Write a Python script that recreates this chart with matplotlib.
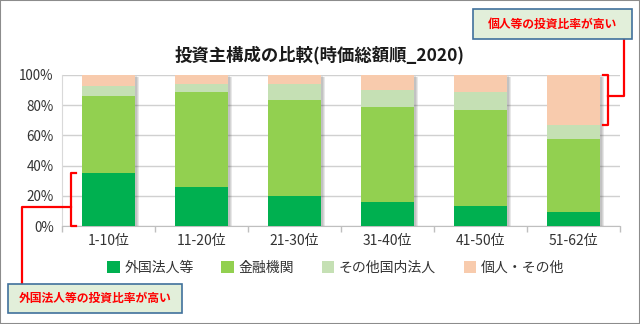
import matplotlib
matplotlib.use('Agg')
import matplotlib.pyplot as plt
import matplotlib.patheffects as pe
from matplotlib.patches import Rectangle
from matplotlib.ticker import FuncFormatter
import numpy as np

plt.rcParams['font.family'] = ['Noto Sans CJK JP', 'DejaVu Sans']

# investor composition by market-cap rank group (%)
ranks = ['1-10位', '11-20位', '21-30位', '31-40位', '41-50位', '51-62位']
foreign = [35.1, 25.8, 19.9, 15.9, 13.2, 9.3]
financial = [51.2, 62.9, 63.5, 62.7, 63.4, 48.1]
other_corp = [6.4, 5.6, 10.4, 11.5, 12.1, 9.5]
individual = [7.3, 5.7, 6.2, 9.9, 11.3, 33.1]
series_names = ['外国法人等', '金融機関', 'その他国内法人', '個人・その他']
colors = ['#00B050', '#92D050', '#C5E0B4', '#F8CBAD']

W, H = 640, 324


def px(x, y):
    # pixel position (from top-left) -> figure fraction
    return x / W, 1 - y / H


fig = plt.figure(figsize=(W / 100, H / 100), dpi=100)
ax = fig.add_axes([62 / W, 1 - 226 / H, 558 / W, 151 / H])

x = np.arange(len(ranks))
width = 0.58
series = [foreign, financial, other_corp, individual]
totals = np.sum(series, axis=0)

# soft drop shadow behind each stacked column (a few faint layers)
shadow = [pe.SimplePatchShadow(offset=(o, -o * 0.7), shadow_rgbFace='#505050', alpha=0.13)
          for o in (0.8, 1.6, 2.4)]
ax.bar(x, totals, width, color='white', zorder=2, path_effects=shadow)

bottom = np.zeros(len(ranks))
for vals, name, c in zip(series, series_names, colors):
    v = np.array(vals)
    ax.bar(x, v, width, bottom=bottom, color=c, label=name, zorder=3)
    bottom += v

ax.set_xlim(-0.5, len(ranks) - 0.5)
ax.set_ylim(0, 100)
ax.set_yticks(np.arange(0, 101, 20))
ax.yaxis.set_major_formatter(FuncFormatter(lambda v, p: '%d%%' % v))
ax.set_xticks(x)
ax.set_xticklabels(ranks)
ax.set_xticks(np.arange(-0.5, len(ranks), 1), minor=True)
ax.tick_params(axis='x', which='major', length=0, pad=6, labelsize=10, labelcolor='#333333')
ax.tick_params(axis='x', which='minor', length=4, color='#BFBFBF', width=1)
ax.tick_params(axis='y', length=0, pad=6, labelsize=9.7, labelcolor='#333333')
ax.grid(axis='y', color='#D0D0D0', linewidth=1, zorder=0)
ax.set_axisbelow(True)
for s in ['top', 'right']:
    ax.spines[s].set_visible(False)
ax.spines['left'].set_color('#D9D9D9')
ax.spines['bottom'].set_color('#BFBFBF')

fig.text(*px(319.5, 55.5), '投資主構成の比較(時価総額順_2020)', ha='center', va='center',
         fontsize=12.5, fontweight='bold', color='#1a1a1a')

fig.legend(ncol=4, loc='center', bbox_to_anchor=px(335.7, 268), frameon=False,
           fontsize=10, handlelength=0.91, handleheight=0.91, handletextpad=0.32,
           columnspacing=2.0, labelcolor='#333333')

# callout brackets and connectors
red = dict(color='#FF0000', lw=1.6, clip_on=False, zorder=5)
bl, bt = -0.403, -0.35
ax.plot([bt, bl, bl, bt], [0, 0, foreign[0], foreign[0]], **red)
ax.plot([bl, -0.927, -0.927], [12.5, 12.5, -38.4], **red)

br, brt = 5.371, 5.317
top_low = 100 - individual[-1]
ax.plot([brt, br, br, brt], [100, 100, top_low, top_low], **red)
ax.plot([br, 5.543, 5.543], [86.1, 86.1, 123.8], **red)


def callout(x0, y0, x1, y1, text):
    fx0, fy1 = px(x0, y1)
    fx1, fy0 = px(x1, y0)
    fig.patches.append(Rectangle((fx0, fy1), fx1 - fx0, fy0 - fy1, transform=fig.transFigure,
                                 facecolor='#E2EFDA', edgecolor='#41719C', lw=1.2, zorder=6))
    fig.text((fx0 + fx1) / 2, (fy0 + fy1) / 2, text, ha='center', va='center',
             fontsize=8.5, fontweight='bold', color='#FF0000', zorder=7)


callout(473.3, 9, 631.7, 39, '個人等の投資比率が高い')
callout(8.3, 284, 181.7, 313.3, '外国法人等の投資比率が高い')

# outer frame
fig.patches.append(Rectangle((0, 0), 1, 1, transform=fig.transFigure, fill=False,
                             edgecolor='#8C8C8C', lw=1.5, zorder=10))

fig.savefig('out.png', dpi=100)
